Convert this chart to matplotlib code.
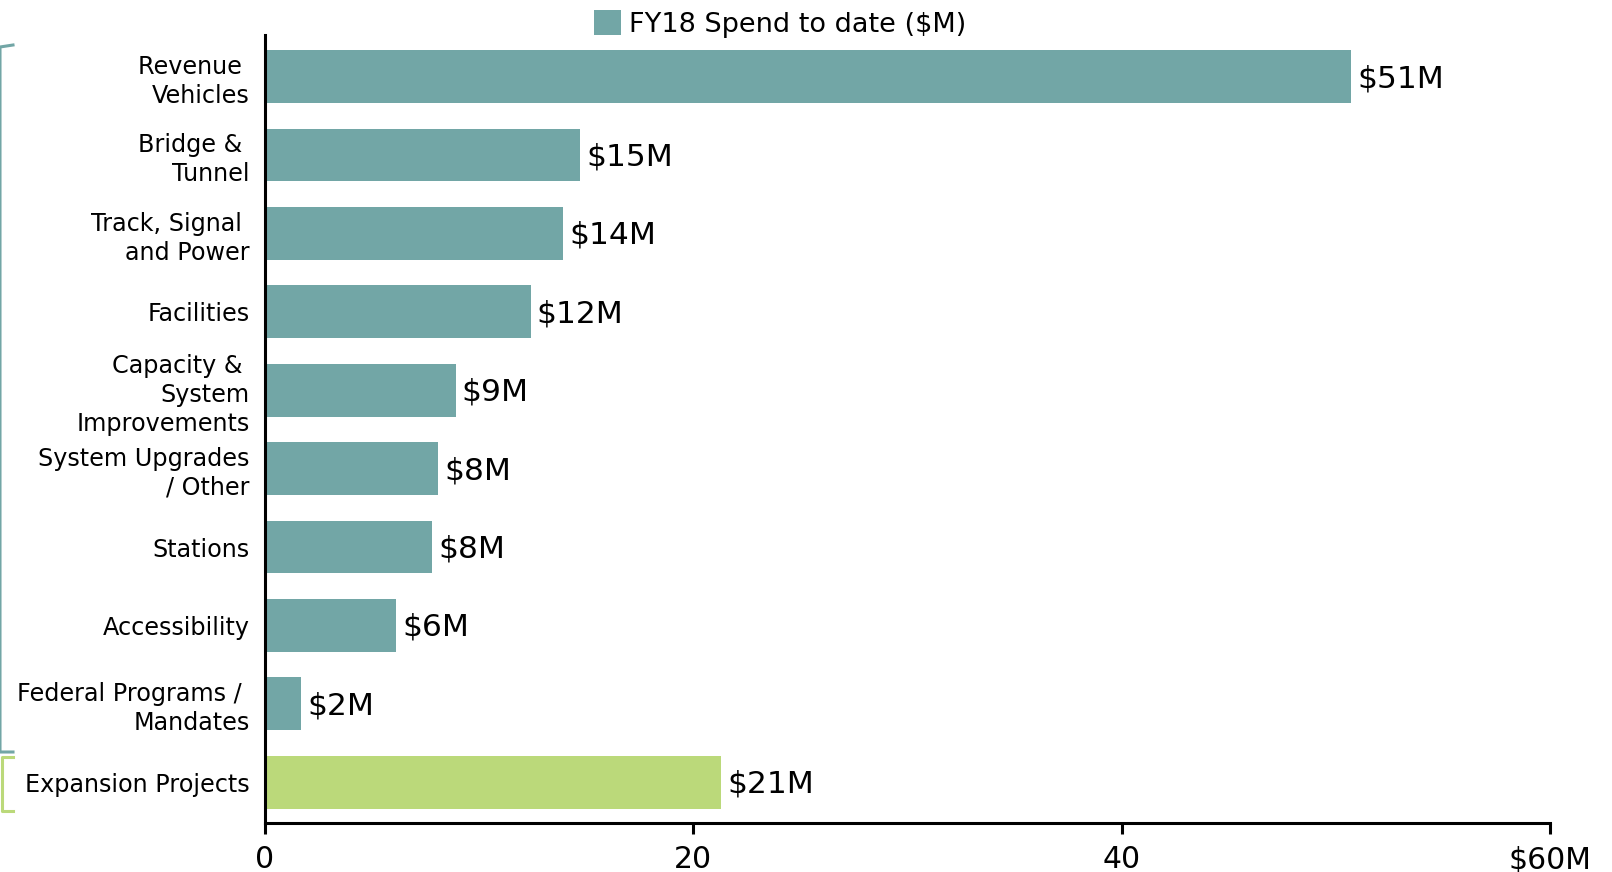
import numpy as np
import matplotlib
matplotlib.use("Agg")
import matplotlib.pyplot as plt
from matplotlib.lines import Line2D

categories = ['Revenue \nVehicles', 'Bridge & \nTunnel', 'Track, Signal \nand Power', 'Facilities',
              'Capacity & \nSystem\nImprovements', 'System Upgrades\n/ Other', 'Stations',
              'Accessibility', 'Federal Programs / \nMandates', 'Expansion Projects']
spend = [50.7, 14.7, 13.9, 12.4, 8.9, 8.1, 7.8, 6.1, 1.7, 21.3]
is_expansion = [False] * 9 + [True]
xticks = [0, 20, 40, 60]
xticklabels = ['0', '20', '40', '$60M']

teal = '#72a6a6'
green = '#bbd97a'

plt.rcParams['font.family'] = 'DejaVu Sans'

fig = plt.figure(figsize=(16.12, 8.72), dpi=100)
ax = fig.add_axes([265 / 1612, 49 / 872, (1550 - 265) / 1612, (823 - 35) / 872])

n = len(categories)
ypos = np.arange(n)[::-1]
colours = [green if e else teal for e in is_expansion]
bars = ax.barh(ypos, spend, height=0.675, color=colours, label='FY18 Spend to date ($M)')

for y, v in zip(ypos, spend):
    ax.annotate('$%dM' % round(v), (v, y), xytext=(4.5, -1.5), textcoords='offset points',
                va='center', ha='left', fontsize=22.5)

ax.set_xlim(0, 60)
ax.set_ylim(-0.52, n - 0.47)
ax.set_xticks(xticks)
ax.set_xticklabels(xticklabels, fontsize=21.5)
ax.set_yticks(ypos)
ax.set_yticklabels(categories, fontsize=17.2, ha='right', multialignment='right', linespacing=1.25)
ax.tick_params(axis='y', length=0, pad=11)
ax.tick_params(axis='x', length=8, width=2.2, pad=8)
for s in ['top', 'right']:
    ax.spines[s].set_visible(False)
for s in ['left', 'bottom']:
    ax.spines[s].set_linewidth(2.2)

# legend (only the teal patch)
fig.legend([bars[0]], ['FY18 Spend to date ($M)'], loc='center left',
           bbox_to_anchor=(594 / 1612, 1 - 24 / 872), frameon=False, fontsize=19.5,
           handlelength=1.0, handleheight=1.0, handletextpad=0.3, borderpad=0, borderaxespad=0)

# brackets on left edge
def fy(p):
    return 1 - p / 872

fig.add_artist(Line2D([13 / 1612, 0, 0, 13 / 1612],
                      [fy(45), fy(47), fy(752), fy(752)], color=teal, lw=2.2,
                      transform=fig.transFigure))
fig.add_artist(Line2D([13 / 1612, 2 / 1612, 2 / 1612, 13 / 1612],
                      [fy(757), fy(757), fy(811), fy(811)], color=green, lw=2.2,
                      transform=fig.transFigure))

fig.savefig('out.png', dpi=100)
